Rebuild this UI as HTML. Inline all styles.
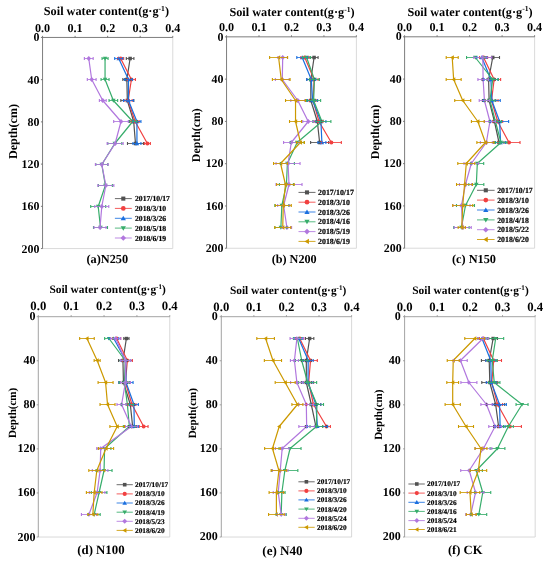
<!DOCTYPE html>
<html><head><meta charset="utf-8"><title>Soil water content</title>
<style>html,body{margin:0;padding:0;background:#fff}svg{display:block;will-change:transform}text{text-rendering:geometricPrecision;font-family:"Liberation Serif",serif;font-weight:bold;fill:#000}</style>
</head><body>
<svg width="550" height="563" viewBox="0 0 550 563">
<rect width="550" height="563" fill="#fff"/>
<g>
<path d="M172.75 37.45V248.55H42.55" fill="none" stroke="#d6d6d6" stroke-width="0.9"/>
<path d="M130.11 58.5L126.85 79.5L127.34 100.5L133.69 121.5L135.48 143.5" fill="none" stroke="#515151" stroke-width="1.2" stroke-linejoin="round"/>
<rect x="128.35" y="56.74" width="3.52" height="3.52" fill="#515151"/>
<rect x="125.09" y="77.74" width="3.52" height="3.52" fill="#515151"/>
<rect x="125.58" y="98.74" width="3.52" height="3.52" fill="#515151"/>
<rect x="131.93" y="119.74" width="3.52" height="3.52" fill="#515151"/>
<rect x="133.72" y="141.74" width="3.52" height="3.52" fill="#515151"/>
<path d="M120.67 58.5L131.41 79.5L128.16 100.5L135.15 121.5L147.36 143.5" fill="none" stroke="#F14040" stroke-width="1.2" stroke-linejoin="round"/>
<circle cx="120.67" cy="58.5" r="2.02" fill="#F14040"/>
<circle cx="131.41" cy="79.5" r="2.02" fill="#F14040"/>
<circle cx="128.16" cy="100.5" r="2.02" fill="#F14040"/>
<circle cx="135.15" cy="121.5" r="2.02" fill="#F14040"/>
<circle cx="147.36" cy="143.5" r="2.02" fill="#F14040"/>
<path d="M118.72 58.5L128.48 79.5L128.48 100.5L136.94 121.5L136.94 143.5" fill="none" stroke="#1A6FDF" stroke-width="1.2" stroke-linejoin="round"/>
<path d="M118.72 56.3L121 60.17L116.43 60.17Z" fill="#1A6FDF"/>
<path d="M128.48 77.3L130.77 81.17L126.19 81.17Z" fill="#1A6FDF"/>
<path d="M128.48 98.3L130.77 102.17L126.19 102.17Z" fill="#1A6FDF"/>
<path d="M136.94 119.3L139.23 123.17L134.66 123.17Z" fill="#1A6FDF"/>
<path d="M136.94 141.3L139.23 145.17L134.66 145.17Z" fill="#1A6FDF"/>
<path d="M105.05 58.5L105.05 79.5L113.35 100.5L132.71 121.5L114.81 143.5L101.79 164.5L105.37 185.5L98.21 206.5L100.49 227.5" fill="none" stroke="#37AD6B" stroke-width="1.2" stroke-linejoin="round"/>
<path d="M105.05 60.7L107.33 56.83L102.76 56.83Z" fill="#37AD6B"/>
<path d="M105.05 81.7L107.33 77.83L102.76 77.83Z" fill="#37AD6B"/>
<path d="M113.35 102.7L115.63 98.83L111.06 98.83Z" fill="#37AD6B"/>
<path d="M132.71 123.7L135 119.83L130.43 119.83Z" fill="#37AD6B"/>
<path d="M114.81 145.7L117.1 141.83L112.52 141.83Z" fill="#37AD6B"/>
<path d="M101.79 166.7L104.08 162.83L99.5 162.83Z" fill="#37AD6B"/>
<path d="M105.37 187.7L107.66 183.83L103.08 183.83Z" fill="#37AD6B"/>
<path d="M98.21 208.7L100.5 204.83L95.92 204.83Z" fill="#37AD6B"/>
<path d="M100.49 229.7L102.78 225.83L98.2 225.83Z" fill="#37AD6B"/>
<path d="M88.77 58.5L91.7 79.5L102.77 100.5L121 121.5L115.14 143.5L101.79 164.5L105.86 185.5L101.79 206.5L100.03 227.5" fill="none" stroke="#B177DE" stroke-width="1.2" stroke-linejoin="round"/>
<path d="M88.77 56.08L91.19 58.5L88.77 60.92L86.35 58.5Z" fill="#B177DE"/>
<path d="M91.7 77.08L94.12 79.5L91.7 81.92L89.28 79.5Z" fill="#B177DE"/>
<path d="M102.77 98.08L105.19 100.5L102.77 102.92L100.35 100.5Z" fill="#B177DE"/>
<path d="M121 119.08L123.42 121.5L121 123.92L118.58 121.5Z" fill="#B177DE"/>
<path d="M115.14 141.08L117.56 143.5L115.14 145.92L112.72 143.5Z" fill="#B177DE"/>
<path d="M101.79 162.08L104.21 164.5L101.79 166.92L99.37 164.5Z" fill="#B177DE"/>
<path d="M105.86 183.08L108.28 185.5L105.86 187.92L103.44 185.5Z" fill="#B177DE"/>
<path d="M101.79 204.08L104.21 206.5L101.79 208.92L99.37 206.5Z" fill="#B177DE"/>
<path d="M100.03 225.08L102.45 227.5L100.03 229.92L97.61 227.5Z" fill="#B177DE"/>
<path d="M126.31 58.5H133.91M122.85 79.5H130.85M120.84 100.5H133.84M129.69 121.5H137.69M127.48 143.5H143.48" fill="none" stroke="#515151" stroke-width="0.85"/>
<path d="M126.31 56.95v3.1M133.91 56.95v3.1M122.85 77.95v3.1M130.85 77.95v3.1M120.84 98.95v3.1M133.84 98.95v3.1M129.69 119.95v3.1M137.69 119.95v3.1M127.48 141.95v3.1M143.48 141.95v3.1" fill="none" stroke="#515151" stroke-width="1.1"/>
<path d="M117.67 58.5H123.67M127.41 79.5H135.41M124.16 100.5H132.16M131.15 121.5H139.15M144.36 143.5H150.36" fill="none" stroke="#F14040" stroke-width="0.85"/>
<path d="M117.67 56.95v3.1M123.67 56.95v3.1M127.41 77.95v3.1M135.41 77.95v3.1M124.16 98.95v3.1M132.16 98.95v3.1M131.15 119.95v3.1M139.15 119.95v3.1M144.36 141.95v3.1M150.36 141.95v3.1" fill="none" stroke="#F14040" stroke-width="1.1"/>
<path d="M114.72 58.5H122.72M124.48 79.5H132.48M123.48 100.5H133.48M132.94 121.5H140.94M132.94 143.5H140.94" fill="none" stroke="#1A6FDF" stroke-width="0.85"/>
<path d="M114.72 56.95v3.1M122.72 56.95v3.1M124.48 77.95v3.1M132.48 77.95v3.1M123.48 98.95v3.1M133.48 98.95v3.1M132.94 119.95v3.1M140.94 119.95v3.1M132.94 141.95v3.1M140.94 141.95v3.1" fill="none" stroke="#1A6FDF" stroke-width="1.1"/>
<path d="M102.05 58.5H108.05M101.05 79.5H109.05M109.05 100.5H117.65M128.71 121.5H136.71M107.81 143.5H121.81M95.79 164.5H107.79M98.37 185.5H112.37M90.71 206.5H105.71M93.49 227.5H107.49" fill="none" stroke="#37AD6B" stroke-width="0.85"/>
<path d="M102.05 56.95v3.1M108.05 56.95v3.1M101.05 77.95v3.1M109.05 77.95v3.1M109.05 98.95v3.1M117.65 98.95v3.1M128.71 119.95v3.1M136.71 119.95v3.1M107.81 141.95v3.1M121.81 141.95v3.1M95.79 162.95v3.1M107.79 162.95v3.1M98.37 183.95v3.1M112.37 183.95v3.1M90.71 204.95v3.1M105.71 204.95v3.1M93.49 225.95v3.1M107.49 225.95v3.1" fill="none" stroke="#37AD6B" stroke-width="1.1"/>
<path d="M84.37 58.5H93.17M87.3 79.5H96.1M99.37 100.5H106.17M113.7 121.5H128.3M107.14 143.5H123.14M95.39 164.5H108.19M97.86 185.5H113.86M94.79 206.5H108.79M94.03 227.5H106.03" fill="none" stroke="#B177DE" stroke-width="0.85"/>
<path d="M84.37 56.95v3.1M93.17 56.95v3.1M87.3 77.95v3.1M96.1 77.95v3.1M99.37 98.95v3.1M106.17 98.95v3.1M113.7 119.95v3.1M128.3 119.95v3.1M107.14 141.95v3.1M123.14 141.95v3.1M95.39 162.95v3.1M108.19 162.95v3.1M97.86 183.95v3.1M113.86 183.95v3.1M94.79 204.95v3.1M108.79 204.95v3.1M94.03 225.95v3.1M106.03 225.95v3.1" fill="none" stroke="#B177DE" stroke-width="1.1"/>
<path d="M42.55 248.55V37.45H172.75M42.55 37.45v-1.6M75.1 37.45v-1.6M107.65 37.45v-1.6M140.2 37.45v-1.6M172.75 37.45v-1.6M42.55 37.45h-1.6M42.55 79.67h-1.6M42.55 121.89h-1.6M42.55 164.11h-1.6M42.55 206.33h-1.6M42.55 248.55h-1.6" fill="none" stroke="#6e6e6e" stroke-width="0.9"/>
<text x="42.55" y="31.5" font-size="12.15" text-anchor="middle">0.0</text>
<text x="75.1" y="31.5" font-size="12.15" text-anchor="middle">0.1</text>
<text x="107.65" y="31.5" font-size="12.15" text-anchor="middle">0.2</text>
<text x="140.2" y="31.5" font-size="12.15" text-anchor="middle">0.3</text>
<text x="172.75" y="31.5" font-size="12.15" text-anchor="middle">0.4</text>
<text x="39.4" y="41.44" font-size="11.9" text-anchor="end">0</text>
<text x="39.4" y="83.66" font-size="11.9" text-anchor="end">40</text>
<text x="39.4" y="125.88" font-size="11.9" text-anchor="end">80</text>
<text x="39.4" y="168.1" font-size="11.9" text-anchor="end">120</text>
<text x="39.4" y="210.32" font-size="11.9" text-anchor="end">160</text>
<text x="39.4" y="252.54" font-size="11.9" text-anchor="end">200</text>
<text x="106.4" y="15.45" font-size="12.25" text-anchor="middle">Soil water content(g·g<tspan font-size="7.59" dy="-4.41">-1</tspan><tspan dy="4.41">)</tspan></text>
<text transform="translate(16.63 131.5) rotate(-90)" font-size="12.1" text-anchor="middle">Depth(cm)</text>
<text x="107.3" y="263.46" font-size="12.3" text-anchor="middle">(a)N250</text>
<path d="M114.9 198.6H131.8" stroke="#515151" stroke-width="0.85"/>
<rect x="121.26" y="196.56" width="4.08" height="4.08" fill="#515151"/>
<text x="135" y="201.17" font-size="7.68" stroke="#000" stroke-width="0.18">2017/10/17</text>
<path d="M114.9 208.4H131.8" stroke="#F14040" stroke-width="0.85"/>
<circle cx="123.3" cy="208.4" r="2.35" fill="#F14040"/>
<text x="135" y="210.97" font-size="7.68" stroke="#000" stroke-width="0.18">2018/3/10</text>
<path d="M114.9 218.3H131.8" stroke="#1A6FDF" stroke-width="0.85"/>
<path d="M123.3 215.75L125.95 220.24L120.65 220.24Z" fill="#1A6FDF"/>
<text x="135" y="220.87" font-size="7.68" stroke="#000" stroke-width="0.18">2018/3/26</text>
<path d="M114.9 228.1H131.8" stroke="#37AD6B" stroke-width="0.85"/>
<path d="M123.3 230.65L125.95 226.16L120.65 226.16Z" fill="#37AD6B"/>
<text x="135" y="230.67" font-size="7.68" stroke="#000" stroke-width="0.18">2018/5/18</text>
<path d="M114.9 238H131.8" stroke="#B177DE" stroke-width="0.85"/>
<path d="M123.3 235.19L126.11 238L123.3 240.81L120.49 238Z" fill="#B177DE"/>
<text x="135" y="240.57" font-size="7.68" stroke="#000" stroke-width="0.18">2018/6/19</text>
</g>
<g>
<path d="M356.39 36.85V248.25H226.55" fill="none" stroke="#d6d6d6" stroke-width="0.9"/>
<path d="M314.08 57.5L310.83 79.5L310.83 100.5L317.34 121.5L319.62 142.5" fill="none" stroke="#515151" stroke-width="1.2" stroke-linejoin="round"/>
<rect x="312.32" y="55.74" width="3.52" height="3.52" fill="#515151"/>
<rect x="309.07" y="77.74" width="3.52" height="3.52" fill="#515151"/>
<rect x="309.07" y="98.74" width="3.52" height="3.52" fill="#515151"/>
<rect x="315.58" y="119.74" width="3.52" height="3.52" fill="#515151"/>
<rect x="317.86" y="140.74" width="3.52" height="3.52" fill="#515151"/>
<path d="M304.81 57.5L314.08 79.5L313.11 100.5L318.97 121.5L331.34 142.5" fill="none" stroke="#F14040" stroke-width="1.2" stroke-linejoin="round"/>
<circle cx="304.81" cy="57.5" r="2.02" fill="#F14040"/>
<circle cx="314.08" cy="79.5" r="2.02" fill="#F14040"/>
<circle cx="313.11" cy="100.5" r="2.02" fill="#F14040"/>
<circle cx="318.97" cy="121.5" r="2.02" fill="#F14040"/>
<circle cx="331.34" cy="142.5" r="2.02" fill="#F14040"/>
<path d="M302.2 57.5L311.29 79.5L312.62 100.5L320.92 121.5L321.9 142.5" fill="none" stroke="#1A6FDF" stroke-width="1.2" stroke-linejoin="round"/>
<path d="M302.2 55.3L304.49 59.17L299.92 59.17Z" fill="#1A6FDF"/>
<path d="M311.29 77.3L313.57 81.17L309 81.17Z" fill="#1A6FDF"/>
<path d="M312.62 98.3L314.91 102.17L310.33 102.17Z" fill="#1A6FDF"/>
<path d="M320.92 119.3L323.21 123.17L318.63 123.17Z" fill="#1A6FDF"/>
<path d="M321.9 140.3L324.19 144.17L319.61 144.17Z" fill="#1A6FDF"/>
<path d="M306.6 57.5L314.41 79.5L313.63 100.5L321.9 121.5L297.16 142.5L287.39 163.5L286.42 184.5L281.86 205.5L280.88 227.5" fill="none" stroke="#37AD6B" stroke-width="1.2" stroke-linejoin="round"/>
<path d="M306.6 59.7L308.89 55.83L304.31 55.83Z" fill="#37AD6B"/>
<path d="M314.41 81.7L316.7 77.83L312.12 77.83Z" fill="#37AD6B"/>
<path d="M313.63 102.7L315.92 98.83L311.34 98.83Z" fill="#37AD6B"/>
<path d="M321.9 123.7L324.19 119.83L319.61 119.83Z" fill="#37AD6B"/>
<path d="M297.16 144.7L299.45 140.83L294.87 140.83Z" fill="#37AD6B"/>
<path d="M287.39 165.7L289.68 161.83L285.11 161.83Z" fill="#37AD6B"/>
<path d="M286.42 186.7L288.71 182.83L284.13 182.83Z" fill="#37AD6B"/>
<path d="M281.86 207.7L284.15 203.83L279.57 203.83Z" fill="#37AD6B"/>
<path d="M280.88 229.7L283.17 225.83L278.6 225.83Z" fill="#37AD6B"/>
<path d="M282.71 57.5L282.28 79.5L297.81 100.5L308.23 121.5L291.3 142.5L288.04 163.5L289.02 184.5L283.65 205.5L286.91 227.5" fill="none" stroke="#B177DE" stroke-width="1.2" stroke-linejoin="round"/>
<path d="M282.71 55.08L285.13 57.5L282.71 59.92L280.29 57.5Z" fill="#B177DE"/>
<path d="M282.28 77.08L284.7 79.5L282.28 81.92L279.86 79.5Z" fill="#B177DE"/>
<path d="M297.81 98.08L300.23 100.5L297.81 102.92L295.39 100.5Z" fill="#B177DE"/>
<path d="M308.23 119.08L310.65 121.5L308.23 123.92L305.81 121.5Z" fill="#B177DE"/>
<path d="M291.3 140.08L293.72 142.5L291.3 144.92L288.88 142.5Z" fill="#B177DE"/>
<path d="M288.04 161.08L290.46 163.5L288.04 165.92L285.62 163.5Z" fill="#B177DE"/>
<path d="M289.02 182.08L291.44 184.5L289.02 186.92L286.6 184.5Z" fill="#B177DE"/>
<path d="M283.65 203.08L286.07 205.5L283.65 207.92L281.23 205.5Z" fill="#B177DE"/>
<path d="M286.91 225.08L289.33 227.5L286.91 229.92L284.49 227.5Z" fill="#B177DE"/>
<path d="M278.61 57.5L281.24 79.5L295.53 100.5L295.53 121.5L300.41 142.5L280.56 163.5L285.44 184.5L283.29 205.5L282.74 227.5" fill="none" stroke="#CC9900" stroke-width="1.2" stroke-linejoin="round"/>
<path d="M276.41 57.5L280.28 55.21L280.28 59.79Z" fill="#CC9900"/>
<path d="M279.04 79.5L282.91 77.21L282.91 81.79Z" fill="#CC9900"/>
<path d="M293.33 100.5L297.2 98.21L297.2 102.79Z" fill="#CC9900"/>
<path d="M293.33 121.5L297.2 119.21L297.2 123.79Z" fill="#CC9900"/>
<path d="M298.21 142.5L302.09 140.21L302.09 144.79Z" fill="#CC9900"/>
<path d="M278.36 163.5L282.23 161.21L282.23 165.79Z" fill="#CC9900"/>
<path d="M283.24 184.5L287.11 182.21L287.11 186.79Z" fill="#CC9900"/>
<path d="M281.09 205.5L284.96 203.21L284.96 207.79Z" fill="#CC9900"/>
<path d="M280.54 227.5L284.41 225.21L284.41 229.79Z" fill="#CC9900"/>
<path d="M310.08 57.5H318.08M306.83 79.5H314.83M305.83 100.5H315.83M313.34 121.5H321.34M310.62 142.5H328.62" fill="none" stroke="#515151" stroke-width="0.85"/>
<path d="M310.08 55.95v3.1M318.08 55.95v3.1M306.83 77.95v3.1M314.83 77.95v3.1M305.83 98.95v3.1M315.83 98.95v3.1M313.34 119.95v3.1M321.34 119.95v3.1M310.62 140.95v3.1M328.62 140.95v3.1" fill="none" stroke="#515151" stroke-width="1.1"/>
<path d="M300.81 57.5H308.81M310.08 79.5H318.08M309.11 100.5H317.11M314.97 121.5H322.97M321.34 142.5H341.34" fill="none" stroke="#F14040" stroke-width="0.85"/>
<path d="M300.81 55.95v3.1M308.81 55.95v3.1M310.08 77.95v3.1M318.08 77.95v3.1M309.11 98.95v3.1M317.11 98.95v3.1M314.97 119.95v3.1M322.97 119.95v3.1M321.34 140.95v3.1M341.34 140.95v3.1" fill="none" stroke="#F14040" stroke-width="1.1"/>
<path d="M296.8 57.5H307.6M306.79 79.5H315.79M307.62 100.5H317.62M315.92 121.5H325.92M317.9 142.5H325.9" fill="none" stroke="#1A6FDF" stroke-width="0.85"/>
<path d="M296.8 55.95v3.1M307.6 55.95v3.1M306.79 77.95v3.1M315.79 77.95v3.1M307.62 98.95v3.1M317.62 98.95v3.1M315.92 119.95v3.1M325.92 119.95v3.1M317.9 140.95v3.1M325.9 140.95v3.1" fill="none" stroke="#1A6FDF" stroke-width="1.1"/>
<path d="M302.6 57.5H310.6M309.41 79.5H319.41M306.63 100.5H320.63M312.9 121.5H330.9M290.16 142.5H304.16M280.39 163.5H294.39M279.42 184.5H293.42M274.86 205.5H288.86M274.88 227.5H286.88" fill="none" stroke="#37AD6B" stroke-width="0.85"/>
<path d="M302.6 55.95v3.1M310.6 55.95v3.1M309.41 77.95v3.1M319.41 77.95v3.1M306.63 98.95v3.1M320.63 98.95v3.1M312.9 119.95v3.1M330.9 119.95v3.1M290.16 140.95v3.1M304.16 140.95v3.1M280.39 161.95v3.1M294.39 161.95v3.1M279.42 182.95v3.1M293.42 182.95v3.1M274.86 203.95v3.1M288.86 203.95v3.1M274.88 225.95v3.1M286.88 225.95v3.1" fill="none" stroke="#37AD6B" stroke-width="1.1"/>
<path d="M278.01 57.5H287.41M275.38 79.5H289.18M290.81 100.5H304.81M302.73 121.5H313.73M283.6 142.5H299M276.04 163.5H300.04M276.02 184.5H302.02M277.65 205.5H289.65M282.21 227.5H291.61" fill="none" stroke="#B177DE" stroke-width="0.85"/>
<path d="M278.01 55.95v3.1M287.41 55.95v3.1M275.38 77.95v3.1M289.18 77.95v3.1M290.81 98.95v3.1M304.81 98.95v3.1M302.73 119.95v3.1M313.73 119.95v3.1M283.6 140.95v3.1M299 140.95v3.1M276.04 161.95v3.1M300.04 161.95v3.1M276.02 182.95v3.1M302.02 182.95v3.1M277.65 203.95v3.1M289.65 203.95v3.1M282.21 225.95v3.1M291.61 225.95v3.1" fill="none" stroke="#B177DE" stroke-width="1.1"/>
<path d="M269.61 57.5H287.61M272.39 79.5H290.09M285.53 100.5H305.53M289.53 121.5H301.53M296.41 142.5H304.41M273.56 163.5H287.56M276.64 184.5H294.24M275.29 205.5H291.29M274.74 227.5H290.74" fill="none" stroke="#CC9900" stroke-width="0.85"/>
<path d="M269.61 55.95v3.1M287.61 55.95v3.1M272.39 77.95v3.1M290.09 77.95v3.1M285.53 98.95v3.1M305.53 98.95v3.1M289.53 119.95v3.1M301.53 119.95v3.1M296.41 140.95v3.1M304.41 140.95v3.1M273.56 161.95v3.1M287.56 161.95v3.1M276.64 182.95v3.1M294.24 182.95v3.1M275.29 203.95v3.1M291.29 203.95v3.1M274.74 225.95v3.1M290.74 225.95v3.1" fill="none" stroke="#CC9900" stroke-width="1.1"/>
<path d="M226.55 248.25V36.85H356.39M226.55 36.85v-1.6M259.01 36.85v-1.6M291.47 36.85v-1.6M323.93 36.85v-1.6M356.39 36.85v-1.6M226.55 36.85h-1.6M226.55 79.13h-1.6M226.55 121.41h-1.6M226.55 163.69h-1.6M226.55 205.97h-1.6M226.55 248.25h-1.6" fill="none" stroke="#6e6e6e" stroke-width="0.9"/>
<text x="226.55" y="31.15" font-size="12.15" text-anchor="middle">0.0</text>
<text x="259.01" y="31.15" font-size="12.15" text-anchor="middle">0.1</text>
<text x="291.47" y="31.15" font-size="12.15" text-anchor="middle">0.2</text>
<text x="323.93" y="31.15" font-size="12.15" text-anchor="middle">0.3</text>
<text x="356.39" y="31.15" font-size="12.15" text-anchor="middle">0.4</text>
<text x="223.5" y="40.54" font-size="11.9" text-anchor="end">0</text>
<text x="223.5" y="82.82" font-size="11.9" text-anchor="end">40</text>
<text x="223.5" y="125.1" font-size="11.9" text-anchor="end">80</text>
<text x="223.5" y="167.38" font-size="11.9" text-anchor="end">120</text>
<text x="223.5" y="209.66" font-size="11.9" text-anchor="end">160</text>
<text x="223.5" y="251.94" font-size="11.9" text-anchor="end">200</text>
<text x="292" y="15.95" font-size="12.25" text-anchor="middle">Soil water content(g·g<tspan font-size="7.59" dy="-4.41">-1</tspan><tspan dy="4.41">)</tspan></text>
<text transform="translate(199.56 135.2) rotate(-90)" font-size="11.85" text-anchor="middle">Depth(cm)</text>
<text x="294.2" y="263.43" font-size="12.2" text-anchor="middle">(b) N200</text>
<path d="M298.5 192.4H315.5" stroke="#515151" stroke-width="0.85"/>
<rect x="304.96" y="190.36" width="4.08" height="4.08" fill="#515151"/>
<text x="318" y="195.05" font-size="7.9" stroke="#000" stroke-width="0.18">2017/10/17</text>
<path d="M298.5 202.2H315.5" stroke="#F14040" stroke-width="0.85"/>
<circle cx="307" cy="202.2" r="2.35" fill="#F14040"/>
<text x="318" y="204.85" font-size="7.9" stroke="#000" stroke-width="0.18">2018/3/10</text>
<path d="M298.5 212H315.5" stroke="#1A6FDF" stroke-width="0.85"/>
<path d="M307 209.45L309.65 213.94L304.35 213.94Z" fill="#1A6FDF"/>
<text x="318" y="214.65" font-size="7.9" stroke="#000" stroke-width="0.18">2018/3/26</text>
<path d="M298.5 221.8H315.5" stroke="#37AD6B" stroke-width="0.85"/>
<path d="M307 224.35L309.65 219.86L304.35 219.86Z" fill="#37AD6B"/>
<text x="318" y="224.45" font-size="7.9" stroke="#000" stroke-width="0.18">2018/4/16</text>
<path d="M298.5 231.6H315.5" stroke="#B177DE" stroke-width="0.85"/>
<path d="M307 228.79L309.81 231.6L307 234.41L304.19 231.6Z" fill="#B177DE"/>
<text x="318" y="234.25" font-size="7.9" stroke="#000" stroke-width="0.18">2018/5/19</text>
<path d="M298.5 241.4H315.5" stroke="#CC9900" stroke-width="0.85"/>
<path d="M304.45 241.4L308.94 238.75L308.94 244.05Z" fill="#CC9900"/>
<text x="318" y="244.05" font-size="7.9" stroke="#000" stroke-width="0.18">2018/6/19</text>
</g>
<g>
<path d="M534.6 36.8V248.2H404.6" fill="none" stroke="#d6d6d6" stroke-width="0.9"/>
<path d="M492.71 57.5L488.63 79.5L489.11 100.5L494.46 121.5L498.99 142.5" fill="none" stroke="#515151" stroke-width="1.2" stroke-linejoin="round"/>
<rect x="490.95" y="55.74" width="3.52" height="3.52" fill="#515151"/>
<rect x="486.87" y="77.74" width="3.52" height="3.52" fill="#515151"/>
<rect x="487.35" y="98.74" width="3.52" height="3.52" fill="#515151"/>
<rect x="492.7" y="119.74" width="3.52" height="3.52" fill="#515151"/>
<rect x="497.23" y="140.74" width="3.52" height="3.52" fill="#515151"/>
<path d="M483.61 57.5L494.13 79.5L491.54 100.5L497.69 121.5L509.02 142.5" fill="none" stroke="#F14040" stroke-width="1.2" stroke-linejoin="round"/>
<circle cx="483.61" cy="57.5" r="2.02" fill="#F14040"/>
<circle cx="494.13" cy="79.5" r="2.02" fill="#F14040"/>
<circle cx="491.54" cy="100.5" r="2.02" fill="#F14040"/>
<circle cx="497.69" cy="121.5" r="2.02" fill="#F14040"/>
<circle cx="509.02" cy="142.5" r="2.02" fill="#F14040"/>
<path d="M481.83 57.5L490.89 79.5L491.87 100.5L499.63 121.5L500.61 142.5" fill="none" stroke="#1A6FDF" stroke-width="1.2" stroke-linejoin="round"/>
<path d="M481.83 55.3L484.12 59.17L479.54 59.17Z" fill="#1A6FDF"/>
<path d="M490.89 77.3L493.18 81.17L488.61 81.17Z" fill="#1A6FDF"/>
<path d="M491.87 98.3L494.15 102.17L489.58 102.17Z" fill="#1A6FDF"/>
<path d="M499.63 119.3L501.92 123.17L497.35 123.17Z" fill="#1A6FDF"/>
<path d="M500.61 140.3L502.89 144.17L498.32 144.17Z" fill="#1A6FDF"/>
<path d="M475.35 57.5L492.71 79.5L489.92 100.5L495.43 121.5L500.93 142.5L477.3 163.5L476.33 184.5L465.48 205.5L461.43 227.5" fill="none" stroke="#37AD6B" stroke-width="1.2" stroke-linejoin="round"/>
<path d="M475.35 59.7L477.64 55.83L473.07 55.83Z" fill="#37AD6B"/>
<path d="M492.71 81.7L494.99 77.83L490.42 77.83Z" fill="#37AD6B"/>
<path d="M489.92 102.7L492.21 98.83L487.63 98.83Z" fill="#37AD6B"/>
<path d="M495.43 123.7L497.71 119.83L493.14 119.83Z" fill="#37AD6B"/>
<path d="M500.93 144.7L503.22 140.83L498.64 140.83Z" fill="#37AD6B"/>
<path d="M477.3 165.7L479.58 161.83L475.01 161.83Z" fill="#37AD6B"/>
<path d="M476.33 186.7L478.61 182.83L474.04 182.83Z" fill="#37AD6B"/>
<path d="M465.48 207.7L467.77 203.83L463.19 203.83Z" fill="#37AD6B"/>
<path d="M461.43 229.7L463.72 225.83L459.14 225.83Z" fill="#37AD6B"/>
<path d="M482.8 57.5L483.12 79.5L484.42 100.5L489.92 121.5L486.36 142.5L471.31 163.5L465.48 184.5L461.43 205.5L462.73 227.5" fill="none" stroke="#B177DE" stroke-width="1.2" stroke-linejoin="round"/>
<path d="M482.8 55.08L485.22 57.5L482.8 59.92L480.38 57.5Z" fill="#B177DE"/>
<path d="M483.12 77.08L485.54 79.5L483.12 81.92L480.7 79.5Z" fill="#B177DE"/>
<path d="M484.42 98.08L486.84 100.5L484.42 102.92L482 100.5Z" fill="#B177DE"/>
<path d="M489.92 119.08L492.34 121.5L489.92 123.92L487.5 121.5Z" fill="#B177DE"/>
<path d="M486.36 140.08L488.78 142.5L486.36 144.92L483.94 142.5Z" fill="#B177DE"/>
<path d="M471.31 161.08L473.73 163.5L471.31 165.92L468.89 163.5Z" fill="#B177DE"/>
<path d="M465.48 182.08L467.9 184.5L465.48 186.92L463.06 184.5Z" fill="#B177DE"/>
<path d="M461.43 203.08L463.85 205.5L461.43 207.92L459.01 205.5Z" fill="#B177DE"/>
<path d="M462.73 225.08L465.15 227.5L462.73 229.92L460.31 227.5Z" fill="#B177DE"/>
<path d="M452.21 57.5L453.66 79.5L462.73 100.5L477.81 121.5L485.39 142.5L466.29 163.5L464.54 184.5L462.73 205.5L461.76 227.5" fill="none" stroke="#CC9900" stroke-width="1.2" stroke-linejoin="round"/>
<path d="M450.01 57.5L453.88 55.21L453.88 59.79Z" fill="#CC9900"/>
<path d="M451.46 79.5L455.33 77.21L455.33 81.79Z" fill="#CC9900"/>
<path d="M460.53 100.5L464.4 98.21L464.4 102.79Z" fill="#CC9900"/>
<path d="M475.61 121.5L479.49 119.21L479.49 123.79Z" fill="#CC9900"/>
<path d="M483.19 142.5L487.06 140.21L487.06 144.79Z" fill="#CC9900"/>
<path d="M464.09 163.5L467.96 161.21L467.96 165.79Z" fill="#CC9900"/>
<path d="M462.34 184.5L466.21 182.21L466.21 186.79Z" fill="#CC9900"/>
<path d="M460.53 205.5L464.4 203.21L464.4 207.79Z" fill="#CC9900"/>
<path d="M459.56 227.5L463.43 225.21L463.43 229.79Z" fill="#CC9900"/>
<path d="M485.91 57.5H499.51M482.13 79.5H495.13M482.41 100.5H495.81M489.46 121.5H499.46M493.99 142.5H503.99" fill="none" stroke="#515151" stroke-width="0.85"/>
<path d="M485.91 55.95v3.1M499.51 55.95v3.1M482.13 77.95v3.1M495.13 77.95v3.1M482.41 98.95v3.1M495.81 98.95v3.1M489.46 119.95v3.1M499.46 119.95v3.1M493.99 140.95v3.1M503.99 140.95v3.1" fill="none" stroke="#515151" stroke-width="1.1"/>
<path d="M479.61 57.5H487.61M487.63 79.5H500.63M485.04 100.5H498.04M492.69 121.5H502.69M498.02 142.5H520.02" fill="none" stroke="#F14040" stroke-width="0.85"/>
<path d="M479.61 55.95v3.1M487.61 55.95v3.1M487.63 77.95v3.1M500.63 77.95v3.1M485.04 98.95v3.1M498.04 98.95v3.1M492.69 119.95v3.1M502.69 119.95v3.1M498.02 140.95v3.1M520.02 140.95v3.1" fill="none" stroke="#F14040" stroke-width="1.1"/>
<path d="M476.83 57.5H486.83M483.89 79.5H497.89M483.47 100.5H500.26M490.63 121.5H508.63M495.61 142.5H505.61" fill="none" stroke="#1A6FDF" stroke-width="0.85"/>
<path d="M476.83 55.95v3.1M486.83 55.95v3.1M483.89 77.95v3.1M497.89 77.95v3.1M483.47 98.95v3.1M500.26 98.95v3.1M490.63 119.95v3.1M508.63 119.95v3.1M495.61 140.95v3.1M505.61 140.95v3.1" fill="none" stroke="#1A6FDF" stroke-width="1.1"/>
<path d="M466.55 57.5H484.15M487.01 79.5H498.41M484.92 100.5H494.92M489.43 121.5H501.43M494.93 142.5H506.93M470.9 163.5H483.7M468.83 184.5H483.83M456.48 205.5H474.48M453.73 227.5H469.13" fill="none" stroke="#37AD6B" stroke-width="0.85"/>
<path d="M466.55 55.95v3.1M484.15 55.95v3.1M487.01 77.95v3.1M498.41 77.95v3.1M484.92 98.95v3.1M494.92 98.95v3.1M489.43 119.95v3.1M501.43 119.95v3.1M494.93 140.95v3.1M506.93 140.95v3.1M470.9 161.95v3.1M483.7 161.95v3.1M468.83 182.95v3.1M483.83 182.95v3.1M456.48 203.95v3.1M474.48 203.95v3.1M453.73 225.95v3.1M469.13 225.95v3.1" fill="none" stroke="#37AD6B" stroke-width="1.1"/>
<path d="M473.8 57.5H491.8M477.92 79.5H488.32M479.22 100.5H489.62M484.42 121.5H495.42M480.36 142.5H492.36M464.01 163.5H478.61M459.48 184.5H471.48M452.83 205.5H470.03M454.23 227.5H471.23" fill="none" stroke="#B177DE" stroke-width="0.85"/>
<path d="M473.8 55.95v3.1M491.8 55.95v3.1M477.92 77.95v3.1M488.32 77.95v3.1M479.22 98.95v3.1M489.62 98.95v3.1M484.42 119.95v3.1M495.42 119.95v3.1M480.36 140.95v3.1M492.36 140.95v3.1M464.01 161.95v3.1M478.61 161.95v3.1M459.48 182.95v3.1M471.48 182.95v3.1M452.83 203.95v3.1M470.03 203.95v3.1M454.23 225.95v3.1M471.23 225.95v3.1" fill="none" stroke="#B177DE" stroke-width="1.1"/>
<path d="M446.21 57.5H458.21M446.16 79.5H461.16M454.73 100.5H470.73M471.41 121.5H484.21M476.89 142.5H493.89M457.79 163.5H474.79M456.54 184.5H472.54M452.73 205.5H472.73M458.16 227.5H465.36" fill="none" stroke="#CC9900" stroke-width="0.85"/>
<path d="M446.21 55.95v3.1M458.21 55.95v3.1M446.16 77.95v3.1M461.16 77.95v3.1M454.73 98.95v3.1M470.73 98.95v3.1M471.41 119.95v3.1M484.21 119.95v3.1M476.89 140.95v3.1M493.89 140.95v3.1M457.79 161.95v3.1M474.79 161.95v3.1M456.54 182.95v3.1M472.54 182.95v3.1M452.73 203.95v3.1M472.73 203.95v3.1M458.16 225.95v3.1M465.36 225.95v3.1" fill="none" stroke="#CC9900" stroke-width="1.1"/>
<path d="M404.6 248.2V36.8H534.6M404.6 36.8v-1.6M437.1 36.8v-1.6M469.6 36.8v-1.6M502.1 36.8v-1.6M534.6 36.8v-1.6M404.6 36.8h-1.6M404.6 79.08h-1.6M404.6 121.36h-1.6M404.6 163.64h-1.6M404.6 205.92h-1.6M404.6 248.2h-1.6" fill="none" stroke="#6e6e6e" stroke-width="0.9"/>
<text x="404.6" y="31" font-size="12.15" text-anchor="middle">0.0</text>
<text x="437.1" y="31" font-size="12.15" text-anchor="middle">0.1</text>
<text x="469.6" y="31" font-size="12.15" text-anchor="middle">0.2</text>
<text x="502.1" y="31" font-size="12.15" text-anchor="middle">0.3</text>
<text x="534.6" y="31" font-size="12.15" text-anchor="middle">0.4</text>
<text x="401.7" y="40.49" font-size="11.9" text-anchor="end">0</text>
<text x="401.7" y="82.77" font-size="11.9" text-anchor="end">40</text>
<text x="401.7" y="125.05" font-size="11.9" text-anchor="end">80</text>
<text x="401.7" y="167.33" font-size="11.9" text-anchor="end">120</text>
<text x="401.7" y="209.61" font-size="11.9" text-anchor="end">160</text>
<text x="401.7" y="251.89" font-size="11.9" text-anchor="end">200</text>
<text x="470" y="15.75" font-size="12.25" text-anchor="middle">Soil water content(g·g<tspan font-size="7.59" dy="-4.41">-1</tspan><tspan dy="4.41">)</tspan></text>
<text transform="translate(379.08 132) rotate(-90)" font-size="11.95" text-anchor="middle">Depth(cm)</text>
<text x="474" y="263.46" font-size="12.3" text-anchor="middle">(c) N150</text>
<path d="M477 190.3H494.6" stroke="#515151" stroke-width="0.85"/>
<rect x="483.76" y="188.26" width="4.08" height="4.08" fill="#515151"/>
<text x="497.2" y="192.91" font-size="7.8" stroke="#000" stroke-width="0.18">2017/10/17</text>
<path d="M477 200.1H494.6" stroke="#F14040" stroke-width="0.85"/>
<circle cx="485.8" cy="200.1" r="2.35" fill="#F14040"/>
<text x="497.2" y="202.71" font-size="7.8" stroke="#000" stroke-width="0.18">2018/3/10</text>
<path d="M477 210H494.6" stroke="#1A6FDF" stroke-width="0.85"/>
<path d="M485.8 207.45L488.45 211.94L483.15 211.94Z" fill="#1A6FDF"/>
<text x="497.2" y="212.61" font-size="7.8" stroke="#000" stroke-width="0.18">2018/3/26</text>
<path d="M477 219.9H494.6" stroke="#37AD6B" stroke-width="0.85"/>
<path d="M485.8 222.45L488.45 217.96L483.15 217.96Z" fill="#37AD6B"/>
<text x="497.2" y="222.51" font-size="7.8" stroke="#000" stroke-width="0.18">2018/4/18</text>
<path d="M477 229.7H494.6" stroke="#B177DE" stroke-width="0.85"/>
<path d="M485.8 226.89L488.61 229.7L485.8 232.5L483 229.7Z" fill="#B177DE"/>
<text x="497.2" y="232.31" font-size="7.8" stroke="#000" stroke-width="0.18">2018/5/22</text>
<path d="M477 239.5H494.6" stroke="#CC9900" stroke-width="0.85"/>
<path d="M483.25 239.5L487.74 236.85L487.74 242.15Z" fill="#CC9900"/>
<text x="497.2" y="242.11" font-size="7.8" stroke="#000" stroke-width="0.18">2018/6/20</text>
</g>
<g>
<path d="M169.78 316.7V537.02H38.3" fill="none" stroke="#d4d4d4" stroke-width="0.9"/>
<path d="M126.39 338.5L122.94 360.5L123.43 382.5L130.34 404.5L132.64 426.5" fill="none" stroke="#515151" stroke-width="1.2" stroke-linejoin="round"/>
<rect x="124.69" y="336.8" width="3.4" height="3.4" fill="#515151"/>
<rect x="121.24" y="358.8" width="3.4" height="3.4" fill="#515151"/>
<rect x="121.73" y="380.8" width="3.4" height="3.4" fill="#515151"/>
<rect x="128.64" y="402.8" width="3.4" height="3.4" fill="#515151"/>
<rect x="130.94" y="424.8" width="3.4" height="3.4" fill="#515151"/>
<path d="M116.69 338.5L127.38 360.5L125.41 382.5L131.98 404.5L143.65 426.5" fill="none" stroke="#F14040" stroke-width="1.2" stroke-linejoin="round"/>
<circle cx="116.69" cy="338.5" r="1.95" fill="#F14040"/>
<circle cx="127.38" cy="360.5" r="1.95" fill="#F14040"/>
<circle cx="125.41" cy="382.5" r="1.95" fill="#F14040"/>
<circle cx="131.98" cy="404.5" r="1.95" fill="#F14040"/>
<circle cx="143.65" cy="426.5" r="1.95" fill="#F14040"/>
<path d="M113.77 338.5L125.73 360.5L126.06 382.5L133.95 404.5L134.28 426.5" fill="none" stroke="#1A6FDF" stroke-width="1.2" stroke-linejoin="round"/>
<path d="M113.77 336.38L115.98 340.12L111.56 340.12Z" fill="#1A6FDF"/>
<path d="M125.73 358.38L127.94 362.12L123.52 362.12Z" fill="#1A6FDF"/>
<path d="M126.06 380.38L128.27 384.12L123.85 384.12Z" fill="#1A6FDF"/>
<path d="M133.95 402.38L136.16 406.12L131.74 406.12Z" fill="#1A6FDF"/>
<path d="M134.28 424.38L136.49 428.12L132.07 428.12Z" fill="#1A6FDF"/>
<path d="M108.97 338.5L125.24 360.5L124.42 382.5L127.38 404.5L129.35 426.5L104.6 448.5L104.04 470.5L99.11 492.5L94.18 514.5" fill="none" stroke="#37AD6B" stroke-width="1.2" stroke-linejoin="round"/>
<path d="M108.97 340.62L111.18 336.88L106.76 336.88Z" fill="#37AD6B"/>
<path d="M125.24 362.62L127.45 358.88L123.03 358.88Z" fill="#37AD6B"/>
<path d="M124.42 384.62L126.63 380.88L122.21 380.88Z" fill="#37AD6B"/>
<path d="M127.38 406.62L129.59 402.88L125.17 402.88Z" fill="#37AD6B"/>
<path d="M129.35 428.62L131.56 424.88L127.14 424.88Z" fill="#37AD6B"/>
<path d="M104.6 450.62L106.81 446.88L102.39 446.88Z" fill="#37AD6B"/>
<path d="M104.04 472.62L106.25 468.88L101.83 468.88Z" fill="#37AD6B"/>
<path d="M99.11 494.62L101.32 490.88L96.9 490.88Z" fill="#37AD6B"/>
<path d="M94.18 516.62L96.39 512.88L91.97 512.88Z" fill="#37AD6B"/>
<path d="M115.71 338.5L125.41 360.5L125.41 382.5L121.59 404.5L131.32 426.5L100.75 448.5L100.1 470.5L97.14 492.5L88.92 514.5" fill="none" stroke="#B177DE" stroke-width="1.2" stroke-linejoin="round"/>
<path d="M115.71 336.16L118.05 338.5L115.71 340.84L113.37 338.5Z" fill="#B177DE"/>
<path d="M125.41 358.16L127.74 360.5L125.41 362.84L123.07 360.5Z" fill="#B177DE"/>
<path d="M125.41 380.16L127.74 382.5L125.41 384.84L123.07 382.5Z" fill="#B177DE"/>
<path d="M121.59 402.16L123.93 404.5L121.59 406.84L119.26 404.5Z" fill="#B177DE"/>
<path d="M131.32 424.16L133.66 426.5L131.32 428.84L128.98 426.5Z" fill="#B177DE"/>
<path d="M100.75 446.16L103.09 448.5L100.75 450.84L98.42 448.5Z" fill="#B177DE"/>
<path d="M100.1 468.16L102.43 470.5L100.1 472.84L97.76 470.5Z" fill="#B177DE"/>
<path d="M97.14 490.16L99.47 492.5L97.14 494.84L94.8 492.5Z" fill="#B177DE"/>
<path d="M88.92 512.16L91.26 514.5L88.92 516.84L86.58 514.5Z" fill="#B177DE"/>
<path d="M86.95 338.5L97.14 360.5L105.58 382.5L107.52 404.5L117.19 426.5L106.01 448.5L96.81 470.5L94.18 492.5L92.86 514.5" fill="none" stroke="#CC9900" stroke-width="1.2" stroke-linejoin="round"/>
<path d="M84.82 338.5L88.56 336.29L88.56 340.71Z" fill="#CC9900"/>
<path d="M95.01 360.5L98.75 358.29L98.75 362.71Z" fill="#CC9900"/>
<path d="M103.46 382.5L107.2 380.29L107.2 384.71Z" fill="#CC9900"/>
<path d="M105.4 404.5L109.14 402.29L109.14 406.71Z" fill="#CC9900"/>
<path d="M115.06 426.5L118.8 424.29L118.8 428.71Z" fill="#CC9900"/>
<path d="M103.89 448.5L107.63 446.29L107.63 450.71Z" fill="#CC9900"/>
<path d="M94.68 470.5L98.42 468.29L98.42 472.71Z" fill="#CC9900"/>
<path d="M92.05 492.5L95.79 490.29L95.79 494.71Z" fill="#CC9900"/>
<path d="M90.74 514.5L94.48 512.29L94.48 516.71Z" fill="#CC9900"/>
<path d="M123.79 338.5H128.99M118.54 360.5H127.34M118.93 382.5H127.93M126.34 404.5H134.34M128.64 426.5H136.64" fill="none" stroke="#515151" stroke-width="0.85"/>
<path d="M123.79 336.95v3.1M128.99 336.95v3.1M118.54 358.95v3.1M127.34 358.95v3.1M118.93 380.95v3.1M127.93 380.95v3.1M126.34 402.95v3.1M134.34 402.95v3.1M128.64 424.95v3.1M136.64 424.95v3.1" fill="none" stroke="#515151" stroke-width="1.1"/>
<path d="M112.69 338.5H120.69M122.38 360.5H132.38M120.41 382.5H130.41M127.98 404.5H135.98M139.25 426.5H148.05" fill="none" stroke="#F14040" stroke-width="0.85"/>
<path d="M112.69 336.95v3.1M120.69 336.95v3.1M122.38 358.95v3.1M132.38 358.95v3.1M120.41 380.95v3.1M130.41 380.95v3.1M127.98 402.95v3.1M135.98 402.95v3.1M139.25 424.95v3.1M148.05 424.95v3.1" fill="none" stroke="#F14040" stroke-width="1.1"/>
<path d="M108.77 338.5H118.77M120.73 360.5H130.73M119.06 382.5H133.06M129.55 404.5H138.35M130.28 426.5H138.28" fill="none" stroke="#1A6FDF" stroke-width="0.85"/>
<path d="M108.77 336.95v3.1M118.77 336.95v3.1M120.73 358.95v3.1M130.73 358.95v3.1M119.06 380.95v3.1M133.06 380.95v3.1M129.55 402.95v3.1M138.35 402.95v3.1M130.28 424.95v3.1M138.28 424.95v3.1" fill="none" stroke="#1A6FDF" stroke-width="1.1"/>
<path d="M104.67 338.5H113.27M120.24 360.5H130.24M119.42 382.5H129.42M121.38 404.5H133.38M123.35 426.5H135.35M98.3 448.5H110.9M96.04 470.5H112.04M91.31 492.5H106.91M88.18 514.5H100.18" fill="none" stroke="#37AD6B" stroke-width="0.85"/>
<path d="M104.67 336.95v3.1M113.27 336.95v3.1M120.24 358.95v3.1M130.24 358.95v3.1M119.42 380.95v3.1M129.42 380.95v3.1M121.38 402.95v3.1M133.38 402.95v3.1M123.35 424.95v3.1M135.35 424.95v3.1M98.3 446.95v3.1M110.9 446.95v3.1M96.04 468.95v3.1M112.04 468.95v3.1M91.31 490.95v3.1M106.91 490.95v3.1M88.18 512.95v3.1M100.18 512.95v3.1" fill="none" stroke="#37AD6B" stroke-width="1.1"/>
<path d="M110.71 338.5H120.71M120.41 360.5H130.41M120.41 382.5H130.41M116.99 404.5H126.19M125.32 426.5H137.32M96.75 448.5H104.75M92.3 470.5H107.9M89.34 492.5H104.94M81.42 514.5H96.42" fill="none" stroke="#B177DE" stroke-width="0.85"/>
<path d="M110.71 336.95v3.1M120.71 336.95v3.1M120.41 358.95v3.1M130.41 358.95v3.1M120.41 380.95v3.1M130.41 380.95v3.1M116.99 402.95v3.1M126.19 402.95v3.1M125.32 424.95v3.1M137.32 424.95v3.1M96.75 446.95v3.1M104.75 446.95v3.1M92.3 468.95v3.1M107.9 468.95v3.1M89.34 490.95v3.1M104.94 490.95v3.1M81.42 512.95v3.1M96.42 512.95v3.1" fill="none" stroke="#B177DE" stroke-width="1.1"/>
<path d="M79.65 338.5H94.25M94.14 360.5H100.14M98.08 382.5H113.08M100.02 404.5H115.02M109.89 426.5H124.49M98.41 448.5H113.61M88.81 470.5H104.81M86.38 492.5H101.98M87.86 514.5H97.86" fill="none" stroke="#CC9900" stroke-width="0.85"/>
<path d="M79.65 336.95v3.1M94.25 336.95v3.1M94.14 358.95v3.1M100.14 358.95v3.1M98.08 380.95v3.1M113.08 380.95v3.1M100.02 402.95v3.1M115.02 402.95v3.1M109.89 424.95v3.1M124.49 424.95v3.1M98.41 446.95v3.1M113.61 446.95v3.1M88.81 468.95v3.1M104.81 468.95v3.1M86.38 490.95v3.1M101.98 490.95v3.1M87.86 512.95v3.1M97.86 512.95v3.1" fill="none" stroke="#CC9900" stroke-width="1.1"/>
<path d="M38.3 537.02V316.7H169.78M38.3 316.7v-1.6M71.17 316.7v-1.6M104.04 316.7v-1.6M136.91 316.7v-1.6M169.78 316.7v-1.6M38.3 316.7h-1.6M38.3 360.76h-1.6M38.3 404.83h-1.6M38.3 448.89h-1.6M38.3 492.96h-1.6M38.3 537.02h-1.6" fill="none" stroke="#8c8c8c" stroke-width="0.8"/>
<text x="38.3" y="310.4" font-size="12.7" text-anchor="middle">0.0</text>
<text x="71.17" y="310.4" font-size="12.7" text-anchor="middle">0.1</text>
<text x="104.04" y="310.4" font-size="12.7" text-anchor="middle">0.2</text>
<text x="136.91" y="310.4" font-size="12.7" text-anchor="middle">0.3</text>
<text x="169.78" y="310.4" font-size="12.7" text-anchor="middle">0.4</text>
<text x="35.4" y="320.22" font-size="12.0" text-anchor="end">0</text>
<text x="35.4" y="364.28" font-size="12.0" text-anchor="end">40</text>
<text x="35.4" y="408.35" font-size="12.0" text-anchor="end">80</text>
<text x="35.4" y="452.41" font-size="12.0" text-anchor="end">120</text>
<text x="35.4" y="496.48" font-size="12.0" text-anchor="end">160</text>
<text x="35.4" y="540.54" font-size="12.0" text-anchor="end">200</text>
<text x="107.6" y="293.4" font-size="11.4" text-anchor="middle">Soil water content(g·g<tspan font-size="7.07" dy="-4.1">-1</tspan><tspan dy="4.1">)</tspan></text>
<text transform="translate(16.12 412.9) rotate(-90)" font-size="11.05" text-anchor="middle">Depth(cm)</text>
<text x="100.9" y="554.42" font-size="12.8" text-anchor="middle">(d) N100</text>
<path d="M116.6 484.7H132.8" stroke="#515151" stroke-width="0.85"/>
<rect x="122.9" y="482.9" width="3.6" height="3.6" fill="#515151"/>
<text x="135" y="487.15" font-size="7.3" stroke="#000" stroke-width="0.18">2017/10/17</text>
<path d="M116.6 493.9H132.8" stroke="#F14040" stroke-width="0.85"/>
<circle cx="124.7" cy="493.9" r="2.07" fill="#F14040"/>
<text x="135" y="496.35" font-size="7.3" stroke="#000" stroke-width="0.18">2018/3/10</text>
<path d="M116.6 503H132.8" stroke="#1A6FDF" stroke-width="0.85"/>
<path d="M124.7 500.75L127.04 504.71L122.36 504.71Z" fill="#1A6FDF"/>
<text x="135" y="505.45" font-size="7.3" stroke="#000" stroke-width="0.18">2018/3/26</text>
<path d="M116.6 512.2H132.8" stroke="#37AD6B" stroke-width="0.85"/>
<path d="M124.7 514.45L127.04 510.49L122.36 510.49Z" fill="#37AD6B"/>
<text x="135" y="514.65" font-size="7.3" stroke="#000" stroke-width="0.18">2018/4/19</text>
<path d="M116.6 521.3H132.8" stroke="#B177DE" stroke-width="0.85"/>
<path d="M124.7 518.82L127.17 521.3L124.7 523.77L122.23 521.3Z" fill="#B177DE"/>
<text x="135" y="523.75" font-size="7.3" stroke="#000" stroke-width="0.18">2018/5/23</text>
<path d="M116.6 530.4H132.8" stroke="#CC9900" stroke-width="0.85"/>
<path d="M122.45 530.4L126.41 528.06L126.41 532.74Z" fill="#CC9900"/>
<text x="135" y="532.85" font-size="7.3" stroke="#000" stroke-width="0.18">2018/6/20</text>
</g>
<g>
<path d="M351.6 316.7V537.02H221.3" fill="none" stroke="#d4d4d4" stroke-width="0.9"/>
<path d="M309.63 338.5L306.33 360.5L306.33 382.5L311.29 404.5L315.91 426.5" fill="none" stroke="#515151" stroke-width="1.2" stroke-linejoin="round"/>
<rect x="307.94" y="336.8" width="3.4" height="3.4" fill="#515151"/>
<rect x="304.63" y="358.8" width="3.4" height="3.4" fill="#515151"/>
<rect x="304.63" y="380.8" width="3.4" height="3.4" fill="#515151"/>
<rect x="309.59" y="402.8" width="3.4" height="3.4" fill="#515151"/>
<rect x="314.21" y="424.8" width="3.4" height="3.4" fill="#515151"/>
<path d="M299.72 338.5L310.53 360.5L308.64 382.5L313.47 404.5L326.49 426.5" fill="none" stroke="#F14040" stroke-width="1.2" stroke-linejoin="round"/>
<circle cx="299.72" cy="338.5" r="1.95" fill="#F14040"/>
<circle cx="310.53" cy="360.5" r="1.95" fill="#F14040"/>
<circle cx="308.64" cy="382.5" r="1.95" fill="#F14040"/>
<circle cx="313.47" cy="404.5" r="1.95" fill="#F14040"/>
<circle cx="326.49" cy="426.5" r="1.95" fill="#F14040"/>
<path d="M298.73 338.5L308.21 360.5L307.98 382.5L315.91 404.5L317.4 426.5" fill="none" stroke="#1A6FDF" stroke-width="1.2" stroke-linejoin="round"/>
<path d="M298.73 336.38L300.94 340.12L296.52 340.12Z" fill="#1A6FDF"/>
<path d="M308.21 358.38L310.42 362.12L306 362.12Z" fill="#1A6FDF"/>
<path d="M307.98 380.38L310.19 384.12L305.77 384.12Z" fill="#1A6FDF"/>
<path d="M315.91 402.38L318.12 406.12L313.7 406.12Z" fill="#1A6FDF"/>
<path d="M317.4 424.38L319.61 428.12L315.19 428.12Z" fill="#1A6FDF"/>
<path d="M297.41 338.5L301.7 360.5L307.65 382.5L316.91 404.5L316.41 426.5L290.04 448.5L284.85 470.5L281.87 492.5L281.21 514.5" fill="none" stroke="#37AD6B" stroke-width="1.2" stroke-linejoin="round"/>
<path d="M297.41 340.62L299.62 336.88L295.2 336.88Z" fill="#37AD6B"/>
<path d="M301.7 362.62L303.91 358.88L299.49 358.88Z" fill="#37AD6B"/>
<path d="M307.65 384.62L309.86 380.88L305.44 380.88Z" fill="#37AD6B"/>
<path d="M316.91 406.62L319.12 402.88L314.7 402.88Z" fill="#37AD6B"/>
<path d="M316.41 428.62L318.62 424.88L314.2 424.88Z" fill="#37AD6B"/>
<path d="M290.04 450.62L292.25 446.88L287.83 446.88Z" fill="#37AD6B"/>
<path d="M284.85 472.62L287.06 468.88L282.64 468.88Z" fill="#37AD6B"/>
<path d="M281.87 494.62L284.08 490.88L279.66 490.88Z" fill="#37AD6B"/>
<path d="M281.21 516.62L283.42 512.88L279 512.88Z" fill="#37AD6B"/>
<path d="M296.88 338.5L294.43 360.5L296.88 382.5L306.33 404.5L306.66 426.5L282.2 448.5L280.22 470.5L278.24 492.5L281.21 514.5" fill="none" stroke="#B177DE" stroke-width="1.2" stroke-linejoin="round"/>
<path d="M296.88 336.16L299.22 338.5L296.88 340.84L294.54 338.5Z" fill="#B177DE"/>
<path d="M294.43 358.16L296.77 360.5L294.43 362.84L292.09 360.5Z" fill="#B177DE"/>
<path d="M296.88 380.16L299.22 382.5L296.88 384.84L294.54 382.5Z" fill="#B177DE"/>
<path d="M306.33 402.16L308.67 404.5L306.33 406.84L303.99 404.5Z" fill="#B177DE"/>
<path d="M306.66 424.16L309 426.5L306.66 428.84L304.32 426.5Z" fill="#B177DE"/>
<path d="M282.2 446.16L284.54 448.5L282.2 450.84L279.87 448.5Z" fill="#B177DE"/>
<path d="M280.22 468.16L282.56 470.5L280.22 472.84L277.88 470.5Z" fill="#B177DE"/>
<path d="M278.24 490.16L280.57 492.5L278.24 494.84L275.9 492.5Z" fill="#B177DE"/>
<path d="M281.21 512.16L283.55 514.5L281.21 516.84L278.87 514.5Z" fill="#B177DE"/>
<path d="M265.61 338.5L272.95 360.5L285.18 382.5L297.41 404.5L279.23 426.5L272.45 448.5L278.9 470.5L276.39 492.5L276.39 514.5" fill="none" stroke="#CC9900" stroke-width="1.2" stroke-linejoin="round"/>
<path d="M263.49 338.5L267.23 336.29L267.23 340.71Z" fill="#CC9900"/>
<path d="M270.82 360.5L274.56 358.29L274.56 362.71Z" fill="#CC9900"/>
<path d="M283.05 382.5L286.79 380.29L286.79 384.71Z" fill="#CC9900"/>
<path d="M295.28 404.5L299.02 402.29L299.02 406.71Z" fill="#CC9900"/>
<path d="M277.1 426.5L280.84 424.29L280.84 428.71Z" fill="#CC9900"/>
<path d="M270.33 448.5L274.07 446.29L274.07 450.71Z" fill="#CC9900"/>
<path d="M276.77 470.5L280.51 468.29L280.51 472.71Z" fill="#CC9900"/>
<path d="M274.26 492.5L278 490.29L278 494.71Z" fill="#CC9900"/>
<path d="M274.26 514.5L278 512.29L278 516.71Z" fill="#CC9900"/>
<path d="M305.44 338.5H313.83M301.33 360.5H311.33M301.33 382.5H311.33M306.29 404.5H316.29M305.41 426.5H326.41" fill="none" stroke="#515151" stroke-width="0.85"/>
<path d="M305.44 336.95v3.1M313.83 336.95v3.1M301.33 358.95v3.1M311.33 358.95v3.1M301.33 380.95v3.1M311.33 380.95v3.1M306.29 402.95v3.1M316.29 402.95v3.1M305.41 424.95v3.1M326.41 424.95v3.1" fill="none" stroke="#515151" stroke-width="1.1"/>
<path d="M295.72 338.5H303.72M303.73 360.5H317.33M303.64 382.5H313.64M306.37 404.5H320.57M322.59 426.5H330.39" fill="none" stroke="#F14040" stroke-width="0.85"/>
<path d="M295.72 336.95v3.1M303.72 336.95v3.1M303.73 358.95v3.1M317.33 358.95v3.1M303.64 380.95v3.1M313.64 380.95v3.1M306.37 402.95v3.1M320.57 402.95v3.1M322.59 424.95v3.1M330.39 424.95v3.1" fill="none" stroke="#F14040" stroke-width="1.1"/>
<path d="M294.73 338.5H302.73M303.21 360.5H313.21M302.98 382.5H312.98M310.91 404.5H320.91M307.2 426.5H327.6" fill="none" stroke="#1A6FDF" stroke-width="0.85"/>
<path d="M294.73 336.95v3.1M302.73 336.95v3.1M303.21 358.95v3.1M313.21 358.95v3.1M302.98 380.95v3.1M312.98 380.95v3.1M310.91 402.95v3.1M320.91 402.95v3.1M307.2 424.95v3.1M327.6 424.95v3.1" fill="none" stroke="#1A6FDF" stroke-width="1.1"/>
<path d="M293.41 338.5H301.41M295.4 360.5H308M298.65 382.5H316.65M310.31 404.5H323.51M310.01 426.5H322.81M279.04 448.5H301.04M271.85 470.5H297.85M278.67 492.5H285.07M276.21 514.5H286.21" fill="none" stroke="#37AD6B" stroke-width="0.85"/>
<path d="M293.41 336.95v3.1M301.41 336.95v3.1M295.4 358.95v3.1M308 358.95v3.1M298.65 380.95v3.1M316.65 380.95v3.1M310.31 402.95v3.1M323.51 402.95v3.1M310.01 424.95v3.1M322.81 424.95v3.1M279.04 446.95v3.1M301.04 446.95v3.1M271.85 468.95v3.1M297.85 468.95v3.1M278.67 490.95v3.1M285.07 490.95v3.1M276.21 512.95v3.1M286.21 512.95v3.1" fill="none" stroke="#37AD6B" stroke-width="1.1"/>
<path d="M290.08 338.5H303.68M290.43 360.5H298.43M290.58 382.5H303.18M299.03 404.5H313.63M298.86 426.5H314.46M275.4 448.5H289M272.42 470.5H288.02M273.24 492.5H283.24M277.21 514.5H285.21" fill="none" stroke="#B177DE" stroke-width="0.85"/>
<path d="M290.08 336.95v3.1M303.68 336.95v3.1M290.43 358.95v3.1M298.43 358.95v3.1M290.58 380.95v3.1M303.18 380.95v3.1M299.03 402.95v3.1M313.63 402.95v3.1M298.86 424.95v3.1M314.46 424.95v3.1M275.4 446.95v3.1M289 446.95v3.1M272.42 468.95v3.1M288.02 468.95v3.1M273.24 490.95v3.1M283.24 490.95v3.1M277.21 512.95v3.1M285.21 512.95v3.1" fill="none" stroke="#B177DE" stroke-width="1.1"/>
<path d="M256.81 338.5H274.41M264.35 360.5H281.55M275.18 382.5H295.18M291.91 404.5H302.91M264.65 448.5H280.25M271.1 470.5H286.7M269.09 492.5H283.69M268.59 514.5H284.19" fill="none" stroke="#CC9900" stroke-width="0.85"/>
<path d="M256.81 336.95v3.1M274.41 336.95v3.1M264.35 358.95v3.1M281.55 358.95v3.1M275.18 380.95v3.1M295.18 380.95v3.1M291.91 402.95v3.1M302.91 402.95v3.1M264.65 446.95v3.1M280.25 446.95v3.1M271.1 468.95v3.1M286.7 468.95v3.1M269.09 490.95v3.1M283.69 490.95v3.1M268.59 512.95v3.1M284.19 512.95v3.1" fill="none" stroke="#CC9900" stroke-width="1.1"/>
<path d="M221.3 537.02V316.7H351.6M221.3 316.7v-1.6M253.88 316.7v-1.6M286.45 316.7v-1.6M319.03 316.7v-1.6M351.6 316.7v-1.6M221.3 316.7h-1.6M221.3 360.76h-1.6M221.3 404.83h-1.6M221.3 448.89h-1.6M221.3 492.96h-1.6M221.3 537.02h-1.6" fill="none" stroke="#8c8c8c" stroke-width="0.8"/>
<text x="221.3" y="311" font-size="12.7" text-anchor="middle">0.0</text>
<text x="253.88" y="311" font-size="12.7" text-anchor="middle">0.1</text>
<text x="286.45" y="311" font-size="12.7" text-anchor="middle">0.2</text>
<text x="319.03" y="311" font-size="12.7" text-anchor="middle">0.3</text>
<text x="351.6" y="311" font-size="12.7" text-anchor="middle">0.4</text>
<text x="217.8" y="319.92" font-size="12.0" text-anchor="end">0</text>
<text x="217.8" y="363.98" font-size="12.0" text-anchor="end">40</text>
<text x="217.8" y="408.05" font-size="12.0" text-anchor="end">80</text>
<text x="217.8" y="452.11" font-size="12.0" text-anchor="end">120</text>
<text x="217.8" y="496.18" font-size="12.0" text-anchor="end">160</text>
<text x="217.8" y="540.24" font-size="12.0" text-anchor="end">200</text>
<text x="288.1" y="293.8" font-size="11.4" text-anchor="middle">Soil water content(g·g<tspan font-size="7.07" dy="-4.1">-1</tspan><tspan dy="4.1">)</tspan></text>
<text transform="translate(196.12 413.2) rotate(-90)" font-size="11.05" text-anchor="middle">Depth(cm)</text>
<text x="282.5" y="554.52" font-size="13.1" text-anchor="middle">(e) N40</text>
<path d="M298.4 481.8H314.7" stroke="#515151" stroke-width="0.85"/>
<rect x="304.6" y="480" width="3.6" height="3.6" fill="#515151"/>
<text x="317" y="484.25" font-size="7.3" stroke="#000" stroke-width="0.18">2017/10/17</text>
<path d="M298.4 490.9H314.7" stroke="#F14040" stroke-width="0.85"/>
<circle cx="306.4" cy="490.9" r="2.07" fill="#F14040"/>
<text x="317" y="493.35" font-size="7.3" stroke="#000" stroke-width="0.18">2018/3/10</text>
<path d="M298.4 499.9H314.7" stroke="#1A6FDF" stroke-width="0.85"/>
<path d="M306.4 497.65L308.74 501.61L304.06 501.61Z" fill="#1A6FDF"/>
<text x="317" y="502.35" font-size="7.3" stroke="#000" stroke-width="0.18">2018/3/26</text>
<path d="M298.4 509.1H314.7" stroke="#37AD6B" stroke-width="0.85"/>
<path d="M306.4 511.35L308.74 507.39L304.06 507.39Z" fill="#37AD6B"/>
<text x="317" y="511.55" font-size="7.3" stroke="#000" stroke-width="0.18">2018/4/20</text>
<path d="M298.4 518.3H314.7" stroke="#B177DE" stroke-width="0.85"/>
<path d="M306.4 515.82L308.88 518.3L306.4 520.77L303.92 518.3Z" fill="#B177DE"/>
<text x="317" y="520.75" font-size="7.3" stroke="#000" stroke-width="0.18">2018/5/24</text>
<path d="M298.4 527.3H314.7" stroke="#CC9900" stroke-width="0.85"/>
<path d="M304.15 527.3L308.11 524.96L308.11 529.64Z" fill="#CC9900"/>
<text x="317" y="529.75" font-size="7.3" stroke="#000" stroke-width="0.18">2018/6/20</text>
</g>
<g>
<path d="M535.16 316.7V537.02H404.6" fill="none" stroke="#d4d4d4" stroke-width="0.9"/>
<path d="M493.11 338.5L489.21 360.5L489.8 382.5L495.67 404.5L498.59 426.5" fill="none" stroke="#515151" stroke-width="1.2" stroke-linejoin="round"/>
<rect x="491.41" y="336.8" width="3.4" height="3.4" fill="#515151"/>
<rect x="487.51" y="358.8" width="3.4" height="3.4" fill="#515151"/>
<rect x="488.1" y="380.8" width="3.4" height="3.4" fill="#515151"/>
<rect x="493.97" y="402.8" width="3.4" height="3.4" fill="#515151"/>
<rect x="496.89" y="424.8" width="3.4" height="3.4" fill="#515151"/>
<path d="M483.4 338.5L493.7 360.5L491.77 382.5L497.61 404.5L509.91 426.5" fill="none" stroke="#F14040" stroke-width="1.2" stroke-linejoin="round"/>
<circle cx="483.4" cy="338.5" r="1.95" fill="#F14040"/>
<circle cx="493.7" cy="360.5" r="1.95" fill="#F14040"/>
<circle cx="491.77" cy="382.5" r="1.95" fill="#F14040"/>
<circle cx="497.61" cy="404.5" r="1.95" fill="#F14040"/>
<circle cx="509.91" cy="426.5" r="1.95" fill="#F14040"/>
<path d="M481.99 338.5L490.78 360.5L491.28 382.5L499.57 404.5L500.13 426.5" fill="none" stroke="#1A6FDF" stroke-width="1.2" stroke-linejoin="round"/>
<path d="M481.99 336.38L484.2 340.12L479.78 340.12Z" fill="#1A6FDF"/>
<path d="M490.78 358.38L492.99 362.12L488.57 362.12Z" fill="#1A6FDF"/>
<path d="M491.28 380.38L493.49 384.12L489.07 384.12Z" fill="#1A6FDF"/>
<path d="M499.57 402.38L501.78 406.12L497.36 406.12Z" fill="#1A6FDF"/>
<path d="M500.13 424.38L502.34 428.12L497.92 428.12Z" fill="#1A6FDF"/>
<path d="M495.67 338.5L492.26 360.5L494.23 382.5L522.04 404.5L508.33 426.5L497.51 448.5L476.35 470.5L482.75 492.5L478.81 514.5" fill="none" stroke="#37AD6B" stroke-width="1.2" stroke-linejoin="round"/>
<path d="M495.67 340.62L497.88 336.88L493.46 336.88Z" fill="#37AD6B"/>
<path d="M492.26 362.62L494.47 358.88L490.05 358.88Z" fill="#37AD6B"/>
<path d="M494.23 384.62L496.44 380.88L492.02 380.88Z" fill="#37AD6B"/>
<path d="M522.04 406.62L524.25 402.88L519.83 402.88Z" fill="#37AD6B"/>
<path d="M508.33 428.62L510.54 424.88L506.12 424.88Z" fill="#37AD6B"/>
<path d="M497.51 450.62L499.72 446.88L495.3 446.88Z" fill="#37AD6B"/>
<path d="M476.35 472.62L478.56 468.88L474.14 468.88Z" fill="#37AD6B"/>
<path d="M482.75 494.62L484.96 490.88L480.54 490.88Z" fill="#37AD6B"/>
<path d="M478.81 516.62L481.02 512.88L476.6 512.88Z" fill="#37AD6B"/>
<path d="M482.98 338.5L460.44 360.5L468.91 382.5L486.49 404.5L495.08 426.5L483.5 448.5L469.23 470.5L475.53 492.5L470.78 514.5" fill="none" stroke="#B177DE" stroke-width="1.2" stroke-linejoin="round"/>
<path d="M482.98 336.16L485.32 338.5L482.98 340.84L480.64 338.5Z" fill="#B177DE"/>
<path d="M460.44 358.16L462.78 360.5L460.44 362.84L458.11 360.5Z" fill="#B177DE"/>
<path d="M468.91 380.16L471.24 382.5L468.91 384.84L466.57 382.5Z" fill="#B177DE"/>
<path d="M486.49 402.16L488.82 404.5L486.49 406.84L484.15 404.5Z" fill="#B177DE"/>
<path d="M495.08 424.16L497.42 426.5L495.08 428.84L492.74 426.5Z" fill="#B177DE"/>
<path d="M483.5 446.16L485.84 448.5L483.5 450.84L481.16 448.5Z" fill="#B177DE"/>
<path d="M469.23 468.16L471.57 470.5L469.23 472.84L466.9 470.5Z" fill="#B177DE"/>
<path d="M475.53 490.16L477.87 492.5L475.53 494.84L473.19 492.5Z" fill="#B177DE"/>
<path d="M470.78 512.16L473.11 514.5L470.78 516.84L468.44 514.5Z" fill="#B177DE"/>
<path d="M474.78 338.5L453.23 360.5L452.7 382.5L452.7 404.5L466.02 426.5L480.94 448.5L478.39 470.5L469.96 492.5L471.27 514.5" fill="none" stroke="#CC9900" stroke-width="1.2" stroke-linejoin="round"/>
<path d="M472.65 338.5L476.39 336.29L476.39 340.71Z" fill="#CC9900"/>
<path d="M451.1 360.5L454.84 358.29L454.84 362.71Z" fill="#CC9900"/>
<path d="M450.58 382.5L454.32 380.29L454.32 384.71Z" fill="#CC9900"/>
<path d="M450.58 404.5L454.32 402.29L454.32 406.71Z" fill="#CC9900"/>
<path d="M463.89 426.5L467.63 424.29L467.63 428.71Z" fill="#CC9900"/>
<path d="M478.82 448.5L482.56 446.29L482.56 450.71Z" fill="#CC9900"/>
<path d="M476.26 470.5L480 468.29L480 472.71Z" fill="#CC9900"/>
<path d="M467.83 492.5L471.57 490.29L471.57 494.71Z" fill="#CC9900"/>
<path d="M469.14 514.5L472.88 512.29L472.88 516.71Z" fill="#CC9900"/>
<path d="M488.71 338.5H497.51M481.41 360.5H497.01M481.8 382.5H497.8M486.67 404.5H504.67M493.59 426.5H503.59" fill="none" stroke="#515151" stroke-width="0.85"/>
<path d="M488.71 336.95v3.1M497.51 336.95v3.1M481.41 358.95v3.1M497.01 358.95v3.1M481.8 380.95v3.1M497.8 380.95v3.1M486.67 402.95v3.1M504.67 402.95v3.1M493.59 424.95v3.1M503.59 424.95v3.1" fill="none" stroke="#515151" stroke-width="1.1"/>
<path d="M479.4 338.5H487.4M485.9 360.5H501.5M486.77 382.5H496.77M492.61 404.5H502.61M498.41 426.5H521.41" fill="none" stroke="#F14040" stroke-width="0.85"/>
<path d="M479.4 336.95v3.1M487.4 336.95v3.1M485.9 358.95v3.1M501.5 358.95v3.1M486.77 380.95v3.1M496.77 380.95v3.1M492.61 402.95v3.1M502.61 402.95v3.1M498.41 424.95v3.1M521.41 424.95v3.1" fill="none" stroke="#F14040" stroke-width="1.1"/>
<path d="M477.99 338.5H485.99M485.78 360.5H495.78M486.28 382.5H496.28M492.77 404.5H506.37M495.13 426.5H505.13" fill="none" stroke="#1A6FDF" stroke-width="0.85"/>
<path d="M477.99 336.95v3.1M485.99 336.95v3.1M485.78 358.95v3.1M495.78 358.95v3.1M486.28 380.95v3.1M496.28 380.95v3.1M492.77 402.95v3.1M506.37 402.95v3.1M495.13 424.95v3.1M505.13 424.95v3.1" fill="none" stroke="#1A6FDF" stroke-width="1.1"/>
<path d="M487.67 338.5H503.67M487.26 360.5H497.26M488.53 382.5H499.93M516.04 404.5H528.04M503.33 426.5H513.33M490.11 448.5H504.91M470.35 470.5H482.35M474.75 492.5H490.75M470.91 514.5H486.71" fill="none" stroke="#37AD6B" stroke-width="0.85"/>
<path d="M487.67 336.95v3.1M503.67 336.95v3.1M487.26 358.95v3.1M497.26 358.95v3.1M488.53 380.95v3.1M499.93 380.95v3.1M516.04 402.95v3.1M528.04 402.95v3.1M503.33 424.95v3.1M513.33 424.95v3.1M490.11 446.95v3.1M504.91 446.95v3.1M470.35 468.95v3.1M482.35 468.95v3.1M474.75 490.95v3.1M490.75 490.95v3.1M470.91 512.95v3.1M486.71 512.95v3.1" fill="none" stroke="#37AD6B" stroke-width="1.1"/>
<path d="M477.58 338.5H488.38M453.64 360.5H467.24M460.91 382.5H476.91M480.89 404.5H492.09M488.78 426.5H501.38M475.2 448.5H491.8M460.73 470.5H477.73M467.23 492.5H483.83M465.78 514.5H475.78" fill="none" stroke="#B177DE" stroke-width="0.85"/>
<path d="M477.58 336.95v3.1M488.38 336.95v3.1M453.64 358.95v3.1M467.24 358.95v3.1M460.91 380.95v3.1M476.91 380.95v3.1M480.89 402.95v3.1M492.09 402.95v3.1M488.78 424.95v3.1M501.38 424.95v3.1M475.2 446.95v3.1M491.8 446.95v3.1M460.73 468.95v3.1M477.73 468.95v3.1M467.23 490.95v3.1M483.83 490.95v3.1M465.78 512.95v3.1M475.78 512.95v3.1" fill="none" stroke="#B177DE" stroke-width="1.1"/>
<path d="M464.78 338.5H484.78M447.23 360.5H459.23M446.8 382.5H458.6M445.1 404.5H460.3M458.52 426.5H473.52M474.94 448.5H486.94M470.09 470.5H486.69M460.16 492.5H479.76M466.27 514.5H476.27" fill="none" stroke="#CC9900" stroke-width="0.85"/>
<path d="M464.78 336.95v3.1M484.78 336.95v3.1M447.23 358.95v3.1M459.23 358.95v3.1M446.8 380.95v3.1M458.6 380.95v3.1M445.1 402.95v3.1M460.3 402.95v3.1M458.52 424.95v3.1M473.52 424.95v3.1M474.94 446.95v3.1M486.94 446.95v3.1M470.09 468.95v3.1M486.69 468.95v3.1M460.16 490.95v3.1M479.76 490.95v3.1M466.27 512.95v3.1M476.27 512.95v3.1" fill="none" stroke="#CC9900" stroke-width="1.1"/>
<path d="M404.6 537.02V316.7H535.16M404.6 316.7v-1.6M437.24 316.7v-1.6M469.88 316.7v-1.6M502.52 316.7v-1.6M535.16 316.7v-1.6M404.6 316.7h-1.6M404.6 360.76h-1.6M404.6 404.83h-1.6M404.6 448.89h-1.6M404.6 492.96h-1.6M404.6 537.02h-1.6" fill="none" stroke="#8c8c8c" stroke-width="0.8"/>
<text x="404.6" y="310.95" font-size="12.7" text-anchor="middle">0.0</text>
<text x="437.24" y="310.95" font-size="12.7" text-anchor="middle">0.1</text>
<text x="469.88" y="310.95" font-size="12.7" text-anchor="middle">0.2</text>
<text x="502.52" y="310.95" font-size="12.7" text-anchor="middle">0.3</text>
<text x="535.16" y="310.95" font-size="12.7" text-anchor="middle">0.4</text>
<text x="400.8" y="320.02" font-size="12.0" text-anchor="end">0</text>
<text x="400.8" y="364.08" font-size="12.0" text-anchor="end">40</text>
<text x="400.8" y="408.15" font-size="12.0" text-anchor="end">80</text>
<text x="400.8" y="452.21" font-size="12.0" text-anchor="end">120</text>
<text x="400.8" y="496.28" font-size="12.0" text-anchor="end">160</text>
<text x="400.8" y="540.34" font-size="12.0" text-anchor="end">200</text>
<text x="470.5" y="293.8" font-size="11.4" text-anchor="middle">Soil water content(g·g<tspan font-size="7.07" dy="-4.1">-1</tspan><tspan dy="4.1">)</tspan></text>
<text transform="translate(382.12 414.7) rotate(-90)" font-size="11.05" text-anchor="middle">Depth(cm)</text>
<text x="465.2" y="554.36" font-size="12.6" text-anchor="middle">(f) CK</text>
<path d="M408.4 484H424.8" stroke="#515151" stroke-width="0.85"/>
<rect x="415" y="482.2" width="3.6" height="3.6" fill="#515151"/>
<text x="427" y="486.45" font-size="7.3" stroke="#000" stroke-width="0.18">2017/10/17</text>
<path d="M408.4 493.1H424.8" stroke="#F14040" stroke-width="0.85"/>
<circle cx="416.8" cy="493.1" r="2.07" fill="#F14040"/>
<text x="427" y="495.55" font-size="7.3" stroke="#000" stroke-width="0.18">2018/3/10</text>
<path d="M408.4 502.3H424.8" stroke="#1A6FDF" stroke-width="0.85"/>
<path d="M416.8 500.05L419.14 504.01L414.46 504.01Z" fill="#1A6FDF"/>
<text x="427" y="504.75" font-size="7.3" stroke="#000" stroke-width="0.18">2018/3/26</text>
<path d="M408.4 511.4H424.8" stroke="#37AD6B" stroke-width="0.85"/>
<path d="M416.8 513.65L419.14 509.69L414.46 509.69Z" fill="#37AD6B"/>
<text x="427" y="513.85" font-size="7.3" stroke="#000" stroke-width="0.18">2018/4/16</text>
<path d="M408.4 520.6H424.8" stroke="#B177DE" stroke-width="0.85"/>
<path d="M416.8 518.12L419.28 520.6L416.8 523.08L414.32 520.6Z" fill="#B177DE"/>
<text x="427" y="523.05" font-size="7.3" stroke="#000" stroke-width="0.18">2018/5/24</text>
<path d="M408.4 529.5H424.8" stroke="#CC9900" stroke-width="0.85"/>
<path d="M414.55 529.5L418.51 527.16L418.51 531.84Z" fill="#CC9900"/>
<text x="427" y="531.95" font-size="7.3" stroke="#000" stroke-width="0.18">2018/6/21</text>
</g>
</svg>
</body></html>
